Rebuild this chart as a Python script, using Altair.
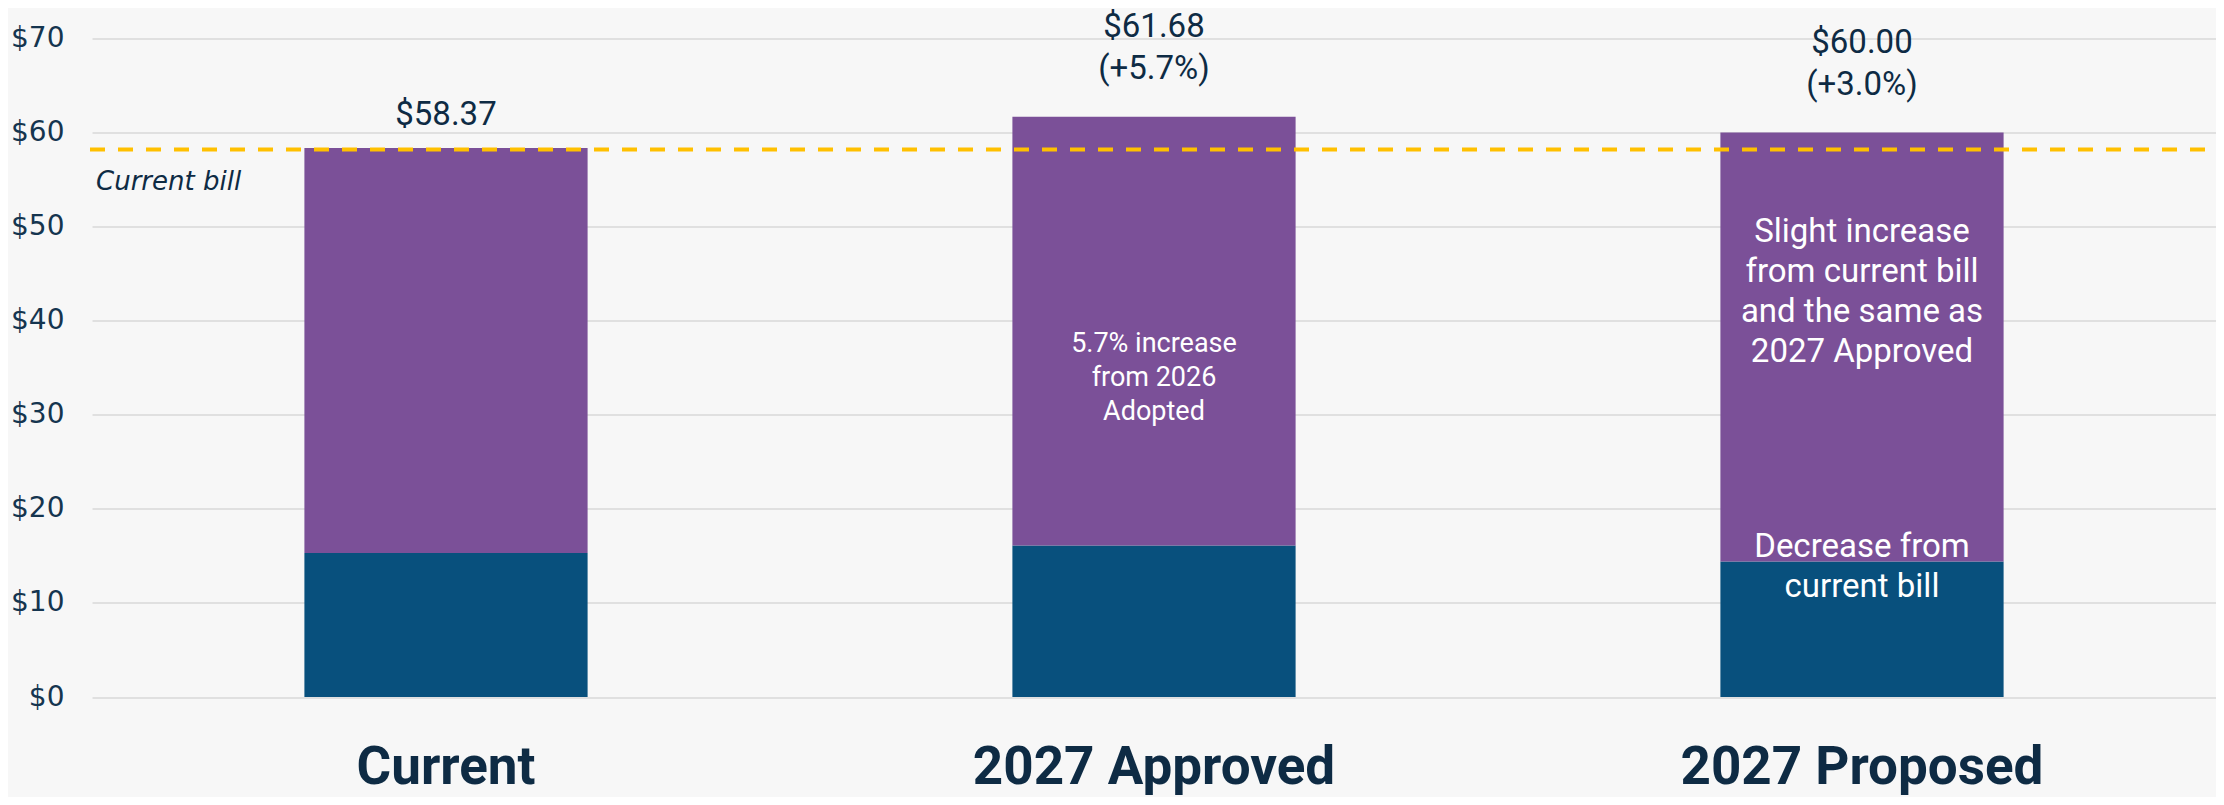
import altair as alt
import pandas as pd

# ---- data ----
categories = ["Current", "2027 Approved", "2027 Proposed"]
base_values = [15.3, 16.1, 14.4]          # dark blue segment
totals = [58.37, 61.68, 60.00]            # top of purple segment
total_labels = ["$58.37", "$61.68", "$60.00"]
change_labels = ["", "(+5.7%)", "(+3.0%)"]
current_bill = [58.2]
y_ticks = [0, 10, 20, 30, 40, 50, 60, 70]

note_approved = ["5.7% increase", "from 2026", "Adopted"]
note_prop_top = ["Slight increase", "from current bill", "and the same as", "2027 Approved"]
note_prop_bottom = ["Decrease from", "current bill"]

df = pd.DataFrame({
    "category": categories,
    "base": base_values,
    "total": totals,
    "total_label": total_labels,
    "change_label": change_labels,
})

# ---- styling ----
W, H = 2124, 658.5
BLUE = "#08507D"
PURPLE = "#7B5098"
GOLD = "#FFC000"
NAVY = "#0E2B44"
BG = "#F7F7F7"
NARROW = "Liberation Sans Narrow, Roboto, sans-serif"
LABEL_FONT = "Roboto, sans-serif"

yscale = alt.Scale(domain=[0, 70], nice=False, zero=True)
xscale = alt.Scale(domain=categories, paddingInner=0.6, paddingOuter=0.3)

x_axis = alt.Axis(title=None, labelAngle=0, ticks=False, domain=False, grid=False,
                  labelFont=NARROW, labelFontSize=53, labelFontWeight="bold",
                  labelColor=NAVY, labelPadding=44, labelLimit=0)
y_axis = alt.Axis(title=None, values=y_ticks, labelExpr="'$' + datum.value",
                  ticks=False, domain=False, grid=True, gridColor="#D9D9D9",
                  gridWidth=1.5, labelFont="DejaVu Sans", labelFontSize=28,
                  labelColor="#15354F", labelPadding=28, labelLimit=0)

X = alt.X("category:N", sort=categories, scale=xscale, axis=x_axis, title=None)


def Y(field):
    return alt.Y(field, scale=yscale, axis=y_axis, title=None)


base = alt.Chart(df)

bar_base = base.mark_bar(color=BLUE).encode(x=X, y=Y("base:Q"))
bar_top = base.mark_bar(color=PURPLE).encode(x=X, y=Y("total:Q"), y2="base:Q")

rule = alt.Chart(pd.DataFrame({"v": current_bill})).mark_rule(
    color=GOLD, strokeWidth=4, strokeDash=[15, 13]).encode(
    y=Y("v:Q"), x=alt.value(-2), x2=alt.value(W))

rule_label = alt.Chart(pd.DataFrame({"v": current_bill})).mark_text(
    text="Current bill", font="DejaVu Sans", fontStyle="italic", fontSize=26,
    color=NAVY, align="left", baseline="alphabetic", dy=40).encode(
    y=Y("v:Q"), x=alt.value(4))

lab_kw = dict(font=LABEL_FONT, fontSize=33, color=NAVY, align="center", baseline="alphabetic")
has_change = "datum.change_label != ''"
no_change = "datum.change_label == ''"

t_single = base.transform_filter(no_change).mark_text(dy=-23, **lab_kw).encode(
    x=X, y=Y("total:Q"), text="total_label:N")
t_line1 = base.transform_filter(has_change).mark_text(dy=-80, **lab_kw).encode(
    x=X, y=Y("total:Q"), text="total_label:N")
t_line2 = base.transform_filter(has_change).mark_text(dy=-38, **lab_kw).encode(
    x=X, y=Y("total:Q"), text="change_label:N")


def note(cat, lines, yval, size, lh):
    d = pd.DataFrame({"category": [cat], "t": [lines], "yv": [yval]})
    return alt.Chart(d).mark_text(
        font=NARROW, fontSize=size, lineHeight=lh, color="white",
        align="center", baseline="alphabetic").encode(
        x=X, y=Y("yv:Q"), text="t")


n1 = note("2027 Approved", note_approved, 36.7, 27, 34)
n2 = note("2027 Proposed", note_prop_top, 48.4, 33, 40)
n3 = note("2027 Proposed", note_prop_bottom, 14.9, 33, 40)

chart = alt.layer(bar_base, bar_top, rule, rule_label, t_single, t_line1, t_line2,
                  n1, n2, n3).properties(
    width=W, height=H,
    autosize=alt.AutoSizeParams(type="none"),
    padding={"left": 84, "top": 30.5, "right": 0, "bottom": 100},
    background=BG,
).configure_view(stroke=None)

chart.save("out.html", embed_options={"renderer": "svg", "actions": False})
